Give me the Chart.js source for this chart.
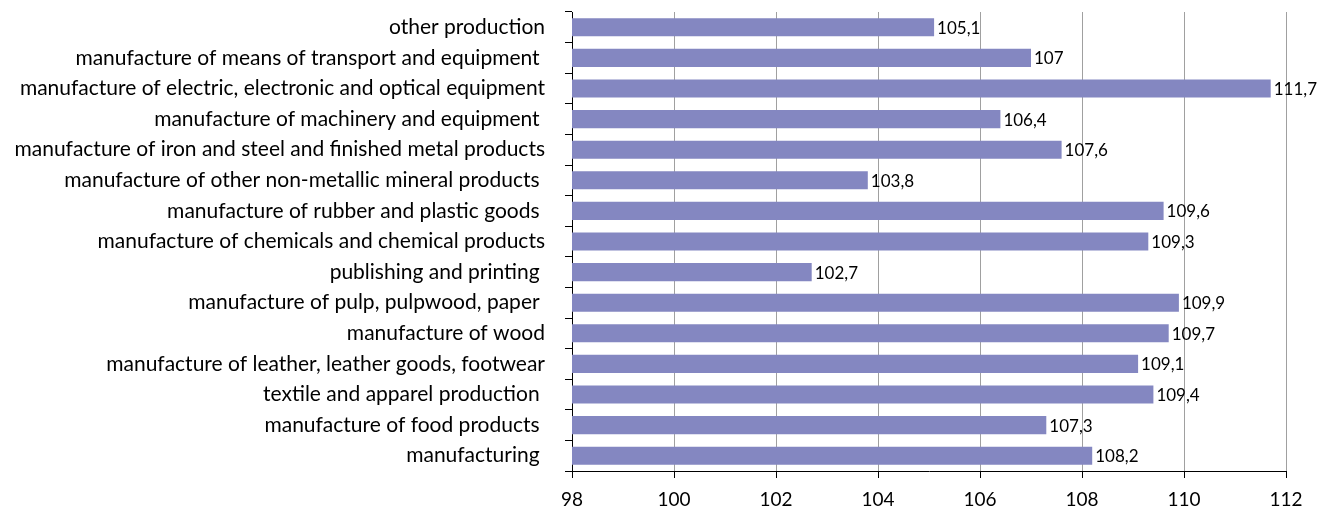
<!DOCTYPE html>
<html>
<head>
<meta charset="utf-8">
<script src="https://cdn.jsdelivr.net/npm/chart.js@4"></script>
<style>
  body { margin: 0; background: #fff; }
  #wrap { width: 1330px; height: 511px; }
</style>
</head>
<body>
<div id="wrap"><canvas id="chart" width="1330" height="511"></canvas></div>
<script>
const categories = [
    'other production',
    'manufacture of means of transport and equipment ',
    'manufacture of electric, electronic and optical equipment',
    'manufacture of machinery and equipment ',
    'manufacture of iron and steel and finished metal products',
    'manufacture of other non-metallic mineral products ',
    'manufacture of rubber and plastic goods ',
    'manufacture of chemicals and chemical products',
    'publishing and printing ',
    'manufacture of pulp, pulpwood, paper ',
    'manufacture of wood',
    'manufacture of leather, leather goods, footwear',
    'textile and apparel production ',
    'manufacture of food products ',
    'manufacturing '
];
const values = [105.1, 107, 111.7, 106.4, 107.6, 103.8, 109.6, 109.3, 102.7, 109.9, 109.7, 109.1, 109.4, 107.3, 108.2];
const xTicks = [98, 100, 102, 104, 106, 108, 110, 112];

const FONT = 'Lato, Carlito, "Open Sans", sans-serif';

// draws the value next to each bar, with a decimal comma
const valueLabels = {
    id: 'valueLabels',
    afterDatasetsDraw(chart) {
        const ctx = chart.ctx;
        const meta = chart.getDatasetMeta(0);
        ctx.save();
        ctx.font = '17px ' + FONT;
        ctx.fillStyle = '#000';
        ctx.textAlign = 'left';
        ctx.textBaseline = 'middle';
        meta.data.forEach((bar, i) => {
            const txt = String(values[i]).replace('.', ',');
            ctx.fillText(txt, bar.x + 3, bar.y + 1);
        });
        ctx.restore();
    }
};

new Chart(document.getElementById('chart'), {
    type: 'bar',
    data: {
        labels: categories,
        datasets: [{
            data: values,
            backgroundColor: '#8487c1',
            borderWidth: 0,
            categoryPercentage: 1,
            barPercentage: 0.59
        }]
    },
    options: {
        indexAxis: 'y',
        responsive: false,
        animation: false,
        layout: { padding: { top: 12, right: 44, left: 0, bottom: 0 } },
        plugins: {
            legend: { display: false },
            tooltip: { enabled: false }
        },
        scales: {
            x: {
                min: 98,
                max: 112,
                afterBuildTicks: (scale) => { scale.ticks = xTicks.map(v => ({ value: v })); },
                afterFit: (scale) => { scale.height = 40; },
                border: { color: '#000', width: 1 },
                grid: {
                    color: '#a0a0a0',
                    tickColor: '#000',
                    tickLength: 7,
                    lineWidth: 1
                },
                ticks: {
                    color: '#000',
                    font: { family: FONT, size: 19 },
                    padding: 10
                }
            },
            y: {
                afterFit: (scale) => {
                    scale.width = 572;
                    scale.paddingTop = 0;
                    scale.paddingBottom = 0;
                },
                border: { color: '#000', width: 1 },
                grid: {
                    drawOnChartArea: false,
                    offset: true,
                    tickColor: '#000',
                    tickLength: 7
                },
                ticks: {
                    color: '#000',
                    font: { family: FONT, size: 21 },
                    padding: 20,
                    autoSkip: false
                }
            }
        }
    },
    plugins: [valueLabels]
});
</script>
</body>
</html>
